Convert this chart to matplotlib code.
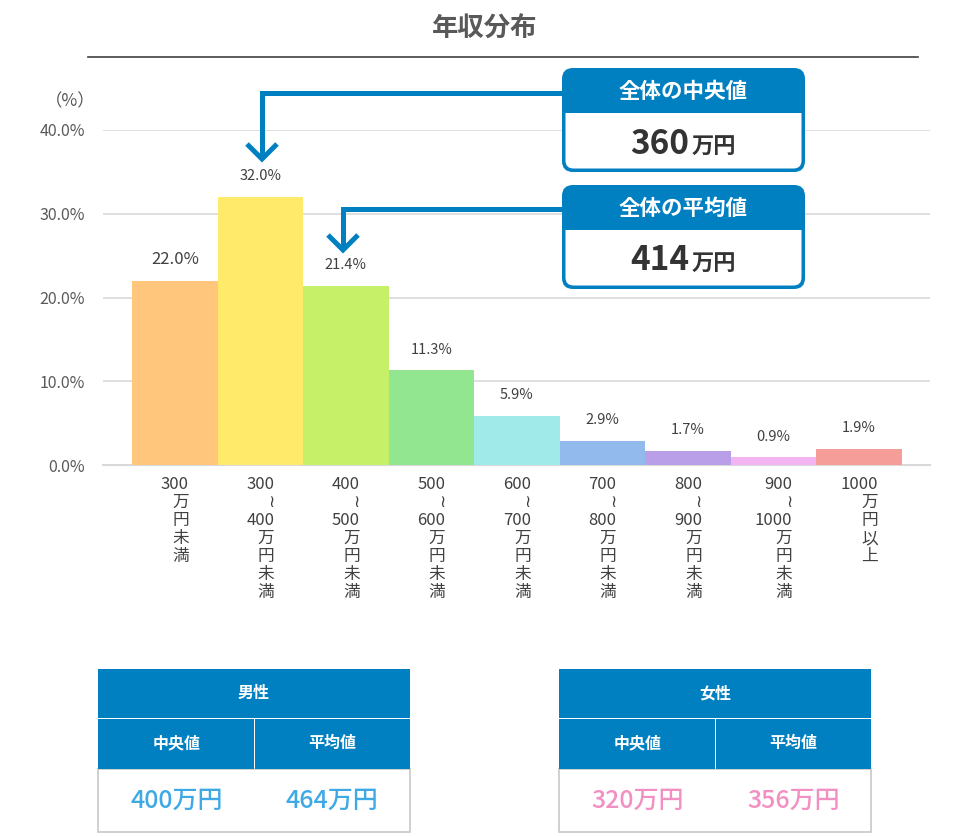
import matplotlib
matplotlib.use("Agg")
import matplotlib.pyplot as plt
from matplotlib.patches import FancyBboxPatch, Rectangle
import numpy as np

plt.rcParams['font.family'] = ['Noto Sans CJK JP', 'DejaVu Sans']

# --- datos ---
categorias = ['300\n万\n円\n未\n満', '300\n≀\n400\n万\n円\n未\n満', '400\n≀\n500\n万\n円\n未\n満',
              '500\n≀\n600\n万\n円\n未\n満', '600\n≀\n700\n万\n円\n未\n満', '700\n≀\n800\n万\n円\n未\n満',
              '800\n≀\n900\n万\n円\n未\n満', '900\n≀\n1000\n万\n円\n未\n満', '1000\n万\n円\n以\n上']
porcentajes = [22.0, 32.0, 21.4, 11.3, 5.9, 2.9, 1.7, 0.9, 1.9]
colores = ['#FFC67C', '#FFEA6A', '#C6F067', '#93E690', '#A0EBE9', '#93BAEC', '#B99EE8', '#F2B4F2', '#F59D98']

mediana_total = '360'
media_total = '414'
tabla_titulos = ['男性', '女性']
tabla_mediana = ['400万円', '320万円']
tabla_media = ['464万円', '356万円']
tabla_colores = ['#3FA9E6', '#F28FC3']

AZUL = '#007FC1'

fig = plt.figure(figsize=(9.55, 8.36), dpi=100)
ax = fig.add_axes([103/955, 1-465/836, 827/955, 335/836])

x = np.arange(len(porcentajes))
ax.bar(x, porcentajes, width=1.0, color=colores, zorder=3)
for i, v in enumerate(porcentajes):
    ax.annotate(f'{v:.1f}%', (i, v), xytext=(0, 15), textcoords='offset points',
                ha='center', va='center', fontsize=12 if i == 0 else 10.5, color='#404040')

ax.set_xlim(-0.5 - 0.34, len(x) - 0.5 + 0.33)
ax.set_ylim(0, 40)
ax.set_yticks([0, 10, 20, 30, 40])
ax.set_yticklabels([f'{t:.1f}%' for t in [0, 10, 20, 30, 40]])
ax.set_xticks(x)
ax.set_xticklabels(categorias, fontsize=12, color='#404040', linespacing=1.08,
                   multialignment='right', va='top')
ax.tick_params(axis='y', length=0, pad=13, labelsize=11.5, labelcolor='#595959')
ax.tick_params(axis='x', length=0, pad=8)
ax.grid(axis='y', color='#D9D9D9', linewidth=1.2, zorder=0)
for s in ['top', 'right', 'left']:
    ax.spines[s].set_visible(False)
ax.spines['bottom'].set_color('#D9D9D9')
ax.spines['bottom'].set_linewidth(1.5)
ax.set_facecolor('none')

# --- capa superior en pixeles ---
ov = fig.add_axes([0, 0, 1, 1], zorder=5)
ov.set_xlim(0, 955)
ov.set_ylim(836, 0)
ov.axis('off')
ov.patch.set_alpha(0)

ov.text(485, 29, '年収分布', ha='center', va='center', fontsize=19, fontweight='bold', color='#595959')
ov.plot([88, 918], [57, 57], color='#404040', lw=1.2)
ov.text(70, 101, '（%）', ha='center', va='center', fontsize=12.5, color='#595959')


def caja(y0, titulo, valor):
    x0, x1, h = 562, 805, 104
    ov.add_patch(FancyBboxPatch((x0, y0), x1 - x0, h, boxstyle='round,pad=0,rounding_size=11',
                                fc=AZUL, ec='none'))
    ov.add_patch(FancyBboxPatch((x0 + 3.5, y0 + 30), x1 - x0 - 7, h - 33.5,
                                boxstyle='round,pad=0,rounding_size=8', fc='white', ec='none'))
    ov.add_patch(Rectangle((x0, y0 + 20), x1 - x0, 25, fc=AZUL, ec='none'))
    ov.text((x0 + x1) / 2, y0 + 23, titulo, ha='center', va='center', fontsize=15.5,
            fontweight='bold', color='white')
    ov.text(689, y0 + 76, valor, ha='right', va='center', fontsize=24, fontweight='bold', color='#333333')
    ov.text(692, y0 + 79, '万円', ha='left', va='center', fontsize=16, fontweight='bold', color='#333333')


caja(68, '全体の中央値', mediana_total)
caja(185, '全体の平均値', media_total)


def flecha(xs, yh, ytip):
    ov.plot([562, xs, xs], [yh, yh, ytip - 3], color=AZUL, lw=3.6, solid_joinstyle='miter',
            solid_capstyle='butt')
    ov.plot([xs - 15, xs, xs + 15], [ytip - 15, ytip, ytip - 15], color=AZUL, lw=3.6,
            solid_joinstyle='miter', solid_capstyle='butt')


flecha(262, 93, 159)
flecha(343, 209, 250)


def tabla(x0, titulo, med, prom, col):
    x1 = x0 + 312
    xm = (x0 + x1) / 2 + 0.5
    ov.add_patch(Rectangle((x0, 769), x1 - x0, 63, fc='white', ec='#C8C8C8', lw=1.2))
    ov.add_patch(Rectangle((x0, 669), x1 - x0, 49, fc=AZUL, ec='none'))
    ov.add_patch(Rectangle((x0, 719), xm - x0 - 0.5, 50, fc=AZUL, ec='none'))
    ov.add_patch(Rectangle((xm + 0.5, 719), x1 - xm - 0.5, 50, fc=AZUL, ec='none'))
    ov.text((x0 + x1) / 2, 693, titulo, ha='center', va='center', fontsize=11.5, fontweight='bold', color='white')
    ov.text((x0 + xm) / 2, 743, '中央値', ha='center', va='center', fontsize=11.5, fontweight='bold', color='white')
    ov.text((xm + x1) / 2, 743, '平均値', ha='center', va='center', fontsize=11.5, fontweight='bold', color='white')
    ov.text((x0 + xm) / 2, 801, med, ha='center', va='center', fontsize=18, fontweight='medium', color=col)
    ov.text((xm + x1) / 2, 801, prom, ha='center', va='center', fontsize=18, fontweight='medium', color=col)


tabla(98, tabla_titulos[0], tabla_mediana[0], tabla_media[0], tabla_colores[0])
tabla(559, tabla_titulos[1], tabla_mediana[1], tabla_media[1], tabla_colores[1])

fig.savefig('out.png', dpi=100)
